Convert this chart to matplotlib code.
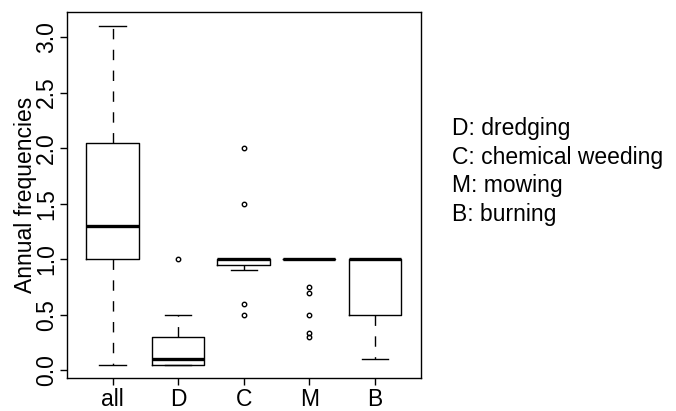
import matplotlib
matplotlib.use('Agg')
import matplotlib.pyplot as plt

# Box statistics per treatment
groups = ['all', 'D', 'C', 'M', 'B']
medians = [1.30, 0.10, 1.00, 1.00, 1.00]
q1 = [1.00, 0.05, 0.95, 1.00, 0.50]
q3 = [2.05, 0.30, 1.00, 1.00, 1.00]
whislo = [0.05, 0.05, 0.90, 1.00, 0.10]
whishi = [3.10, 0.50, 1.00, 1.00, 1.00]
fliers = [[], [1.0], [2.0, 1.5, 0.6, 0.5], [0.75, 0.70, 0.50, 0.333, 0.30], []]

legend_lines = ['D: dredging', 'C: chemical weeding', 'M: mowing', 'B: burning']

plt.rcParams['font.family'] = ['Liberation Sans', 'DejaVu Sans']
FS = 16.5

fig = plt.figure(figsize=(6.76, 4.11), dpi=100)
ax = fig.add_axes([66.7 / 676, 1 - 378.3 / 411, (420.7 - 66.7) / 676, (378.3 - 12.3) / 411])

stats = []
for i, name in enumerate(groups):
    stats.append(dict(label=name, med=medians[i], q1=q1[i], q3=q3[i],
                      whislo=whislo[i], whishi=whishi[i], fliers=fliers[i]))

ax.bxp(stats, positions=range(1, len(groups) + 1), widths=0.8,
       boxprops=dict(color='black', linewidth=1.0),
       whiskerprops=dict(color='black', linewidth=1.0, linestyle=(0, (7.5, 7.5))),
       capprops=dict(color='black', linewidth=1.0),
       medianprops=dict(color='black', linewidth=2.4, solid_capstyle='butt'),
       flierprops=dict(marker='o', markerfacecolor='none', markeredgecolor='black',
                       markersize=3.2, markeredgewidth=1.0))

ax.set_xlim(0.3, 5.7)
ax.set_ylim(-0.072, 3.222)
ax.set_yticks([0.0, 0.5, 1.0, 1.5, 2.0, 2.5, 3.0])
ax.set_yticklabels(['0.0', '0.5', '1.0', '1.5', '2.0', '2.5', '3.0'],
                   rotation=90, va='center', fontsize=FS)
ax.set_xticks(range(1, len(groups) + 1))
ax.set_xticklabels(groups, fontsize=FS)
ax.tick_params(axis='both', direction='out', length=5, width=1.0, color='black')
ax.tick_params(axis='y', pad=1)
ax.tick_params(axis='x', pad=2)
for s in ax.spines.values():
    s.set_linewidth(1.0)
    s.set_color('black')

ax.set_ylabel('Annual frequencies', fontsize=FS, labelpad=-1)

for k, line in enumerate(legend_lines):
    y_px = 135 + k * 28.7
    fig.text(452 / 676, 1 - y_px / 411, line, fontsize=FS, va='baseline', ha='left')

fig.savefig('out.png', dpi=100)
